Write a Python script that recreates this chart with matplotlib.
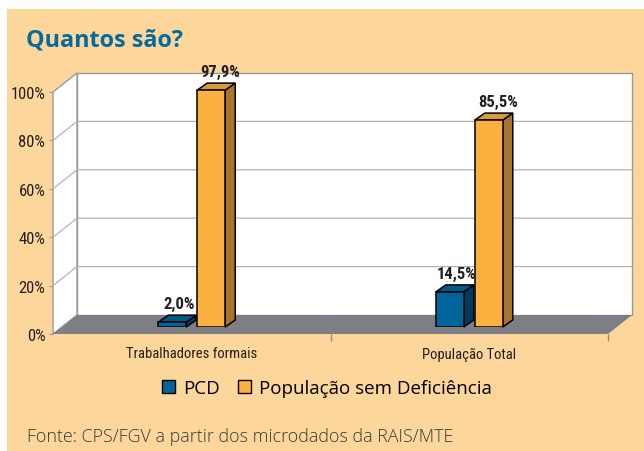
import matplotlib
matplotlib.use("Agg")
import matplotlib.pyplot as plt
from matplotlib import font_manager as fm
from matplotlib.patches import Polygon, Rectangle
from matplotlib.ticker import FixedLocator, FuncFormatter

# ---- data ----
categories = ["Trabalhadores formais", "População Total"]
series_names = ["PCD", "População sem Deficiência"]
pcd = [2.0, 14.5]
sem_def = [97.9, 85.5]
value_labels_pcd = ["2,0%", "14,5%"]
value_labels_sem = ["97,9%", "85,5%"]
yticks = [0, 20, 40, 60, 80, 100]
title = "Quantos são?"
source = "Fonte: CPS/FGV a partir dos microdados da RAIS/MTE"

# ---- style ----
W, H, DPI = 644, 452, 100
BEIGE = "#FDD69B"
TITLE_BLUE = "#056AA0"
BLUE = ("#00659A", "#005A88", "#003C5E")     # front, top, side
ORANGE = ("#FBB040", "#D99A38", "#A8752C")
FLOOR = "#7E7F84"
GRID = "#B4B4B4"
WALL_EDGE = "#9A9A9A"

names = {f.name for f in fm.fontManager.ttflist}
narrow_cands = [n for n in ["Liberation Sans Narrow", "Roboto Condensed", "Open Sans Condensed",
                            "DejaVu Sans Condensed", "Noto Sans Condensed"] if n in names]
dejavu_cond = any(f.name == "DejaVu Sans" and f.stretch in ("condensed", "semi-condensed")
                  for f in fm.fontManager.ttflist)
NARROW = (narrow_cands[:1] or []) + ["DejaVu Sans"]
NSTRETCH = "condensed" if (not narrow_cands and dejavu_cond) else "normal"
open_light = any(f.name == "Open Sans" and f.weight in (300, "light") for f in fm.fontManager.ttflist)

fig = plt.figure(figsize=(W / DPI, H / DPI), dpi=DPI, facecolor="white")
fig.patches.append(Rectangle((7 / W, 0), 1 - 7 / W, 1 - 10 / H, transform=fig.transFigure,
                             facecolor=BEIGE, edgecolor="none", zorder=-10))

def px_axes(left, top, right, bottom):
    return [left / W, 1 - bottom / H, (right - left) / W, (bottom - top) / H]

ax_front = fig.add_axes(px_axes(53, 93, 608, 335))
ax = fig.add_axes(px_axes(53, 86, 608, 328))
for a in (ax_front, ax):
    a.set_xlim(-0.5, 1.5)
    a.set_ylim(0, 100)
    a.patch.set_visible(False)
    for s in a.spines.values():
        s.set_visible(False)
ax.set_axis_off()
ax_front.set_zorder(0)
ax.set_zorder(1)

ux = 2.0 / 555.0
uy = 100.0 / 242.0

ax_front.yaxis.set_major_locator(FixedLocator(yticks))
ax_front.yaxis.set_major_formatter(FuncFormatter(lambda v, p: f"{v:.0f}%"))
ax_front.tick_params(axis="y", length=3, width=0.8, color=WALL_EDGE, pad=2.5,
                     labelsize=12, labelcolor="#231F20")
for lab in ax_front.get_yticklabels():
    lab.set_family(NARROW)
    lab.set_fontstretch(NSTRETCH)
ax_front.xaxis.set_major_locator(FixedLocator([0.5, 1.5]))
ax_front.xaxis.set_minor_locator(FixedLocator([0, 1]))
ax_front.set_xticklabels(["", ""])
ax_front.set_xticklabels(categories, minor=True)
ax_front.tick_params(axis="x", which="major", length=5, width=1, color="#8A8A8A")
ax_front.tick_params(axis="x", which="minor", length=0, pad=9, labelsize=10.5,
                     labelcolor="#231F20")
for lab in ax_front.get_xticklabels(minor=True):
    lab.set_family(NARROW)
    lab.set_fontstretch(NSTRETCH)

fy = -7 * uy
bx, by = 24 * ux, 12 * uy
x0, x1 = -0.5, 1.5

ax.add_patch(Polygon([(x0 + bx, by), (x1 + bx, by), (x1 + bx, 100 + by), (x0 + bx, 100 + by)],
                     closed=True, facecolor="white", edgecolor=WALL_EDGE, lw=1.0,
                     zorder=1, clip_on=False))
ax.add_patch(Polygon([(x0, fy), (x0 + bx, by), (x0 + bx, 100 + by), (x0, 100 + fy)],
                     closed=True, facecolor="white", edgecolor=WALL_EDGE, lw=1.0,
                     zorder=1, clip_on=False))
for t in yticks[1:-1]:
    ax.plot([x0, x0 + bx, x1 + bx], [t + fy, t + by, t + by], color=GRID, lw=0.9,
            zorder=2, clip_on=False)
ax.add_patch(Polygon([(x0, fy), (x0 + bx, by), (x1 + bx, by), (x1, fy)],
                     closed=True, facecolor=FLOOR, edgecolor="none",
                     zorder=3, clip_on=False))

bw = 28 * ux
off = 19.5 * ux
dxb, dyb = 10 * ux, 7 * uy

def bar3d(xc, v, cols):
    xl, xr = xc - bw / 2, xc + bw / 2
    ax.bar([xc], [v], width=bw, color=cols[0], edgecolor="black", lw=1.1, zorder=5)
    ax.add_patch(Polygon([(xr, 0), (xr + dxb, dyb), (xr + dxb, v + dyb), (xr, v)],
                         closed=True, facecolor=cols[2], edgecolor="black", lw=1.1,
                         zorder=4, clip_on=False))
    ax.add_patch(Polygon([(xl, v), (xr, v), (xr + dxb, v + dyb), (xl + dxb, v + dyb)],
                         closed=True, facecolor=cols[1], edgecolor="black", lw=1.1,
                         zorder=4, clip_on=False))

for i, cat in enumerate(categories):
    bar3d(i - off, pcd[i], BLUE)
    bar3d(i + off, sem_def[i], ORANGE)
    ax.text(i - off + 7 * ux, pcd[i] + dyb + 4 * uy, value_labels_pcd[i], ha="center",
            va="bottom", fontsize=12, fontweight="bold", color="#231F20",
            family=NARROW, fontstretch=NSTRETCH, zorder=6)
    ax.text(i + off + 9 * ux, sem_def[i] + dyb + 4 * uy, value_labels_sem[i], ha="center",
            va="bottom", fontsize=12, fontweight="bold", color="#231F20",
            family=NARROW, fontstretch=NSTRETCH, zorder=6)

fig.text(26 / W, 1 - 40 / H, title, fontsize=16.8, fontweight="bold", color=TITLE_BLUE,
         family=["Open Sans", "DejaVu Sans"], va="center", ha="left")

handles = [Rectangle((0, 0), 1, 1, facecolor=BLUE[0], edgecolor="black", lw=1.0),
           Rectangle((0, 0), 1, 1, facecolor=ORANGE[0], edgecolor="black", lw=1.0)]
fig.legend(handles, series_names, loc="center", bbox_to_anchor=(327 / W, 1 - 389 / H),
           ncol=2, frameon=False, handlelength=0.7, handleheight=0.7,
           handletextpad=0.4, columnspacing=1.0,
           prop={"family": ["Open Sans", "DejaVu Sans"], "size": 13.5})

fig.text(27 / W, 1 - 437 / H, source, fontsize=12.9, color="#3A3A3A",
         family=["Open Sans", "DejaVu Sans"], fontweight=300 if open_light else "normal",
         va="center", ha="left")

fig.savefig("out.png", dpi=DPI, facecolor=fig.get_facecolor())
